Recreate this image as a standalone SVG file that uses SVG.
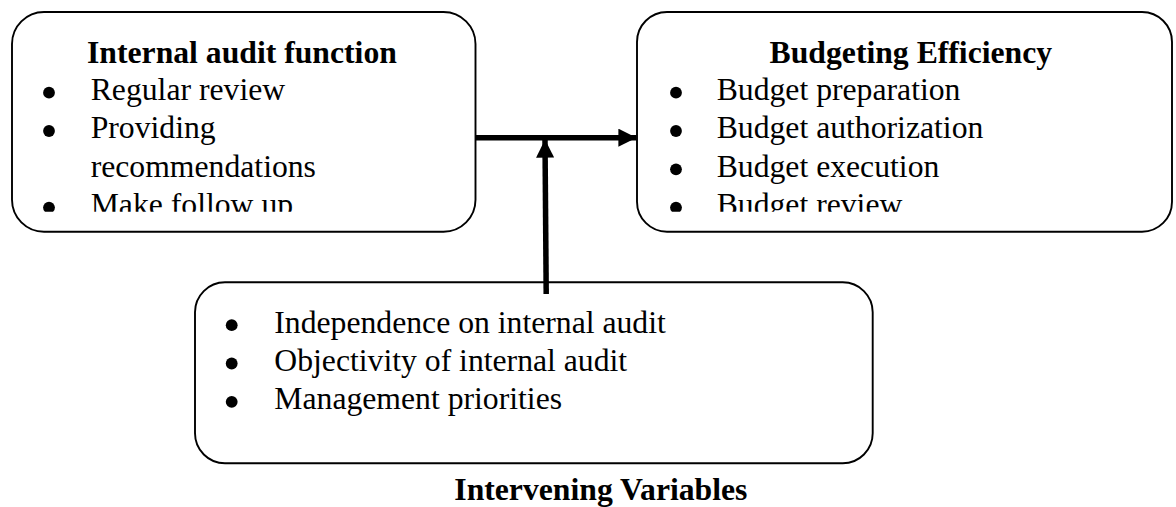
<svg xmlns="http://www.w3.org/2000/svg" width="1176" height="507" viewBox="0 0 1176 507">
  <style>
    .box { fill: #ffffff; stroke: #000000; stroke-width: 1.9; }
    .title { font-family: "Liberation Serif", "Times New Roman", serif; font-weight: bold; font-size: 31.7px; fill: #000000; }
    .item { font-family: "Liberation Serif", "Times New Roman", serif; font-size: 31.7px; fill: #000000; }
    .dot { fill: #000000; }
    .link { stroke: #000000; stroke-width: 5.5; fill: none; }
  </style>
  <defs>
    <marker id="head" viewBox="0 0 10 10" refX="10" refY="5" markerWidth="3.3" markerHeight="3.3" markerUnits="strokeWidth" orient="auto">
      <path d="M0,0 L10,5 L0,10 Z" fill="#000000"/>
    </marker>
    <!-- text areas inside the two upper boxes cut off the last line -->
    <clipPath id="clipLeft"><rect x="14" y="14" width="460" height="197.7"/></clipPath>
    <clipPath id="clipRight"><rect x="639" y="14" width="532" height="197.7"/></clipPath>
  </defs>

  <rect width="1176" height="507" fill="#ffffff"/>

  <!-- Independent variable -->
  <g id="internal-audit-function">
    <rect class="box" x="12" y="12" width="463.5" height="219.7" rx="32" ry="32"/>
    <g clip-path="url(#clipLeft)">
      <text class="title" x="87" y="62.7">Internal audit function</text>
      <circle class="dot" cx="49" cy="92.7" r="5.9"/>
      <text class="item" x="90.7" y="100">Regular review</text>
      <circle class="dot" cx="49" cy="131" r="5.9"/>
      <text class="item" x="90.7" y="138.3">Providing</text>
      <text class="item" x="90.7" y="176.6">recommendations</text>
      <circle class="dot" cx="49" cy="207.6" r="5.9"/>
      <text class="item" x="90.7" y="214.9">Make follow up</text>
    </g>
  </g>

  <!-- Dependent variable -->
  <g id="budgeting-efficiency">
    <rect class="box" x="637" y="12" width="535" height="219.7" rx="30" ry="30"/>
    <g clip-path="url(#clipRight)">
      <text class="title" x="769.6" y="62.7">Budgeting Efficiency</text>
      <circle class="dot" cx="676" cy="92.7" r="5.9"/>
      <text class="item" x="716.7" y="100">Budget preparation</text>
      <circle class="dot" cx="676" cy="131" r="5.9"/>
      <text class="item" x="716.7" y="138.3">Budget authorization</text>
      <circle class="dot" cx="676" cy="169.3" r="5.9"/>
      <text class="item" x="716.7" y="176.6">Budget execution</text>
      <circle class="dot" cx="676" cy="207.6" r="5.9"/>
      <text class="item" x="716.7" y="214.9">Budget review</text>
    </g>
  </g>

  <!-- Intervening variables -->
  <g id="intervening-variables">
    <rect class="box" x="195" y="282.3" width="677.7" height="181" rx="30" ry="30"/>
    <circle class="dot" cx="231.7" cy="325.2" r="5.9"/>
    <text class="item" x="274.3" y="332.5">Independence on internal audit</text>
    <circle class="dot" cx="231.7" cy="363.5" r="5.9"/>
    <text class="item" x="274.3" y="370.8">Objectivity of internal audit</text>
    <circle class="dot" cx="231.7" cy="401.8" r="5.9"/>
    <text class="item" x="274.3" y="409.1">Management priorities</text>
    <text class="title" x="454.3" y="499.8">Intervening Variables</text>
  </g>

  <!-- Connectors -->
  <g id="connectors">
    <line class="link" x1="475.5" y1="137.7" x2="636.5" y2="137.7" marker-end="url(#head)"/>
    <line class="link" x1="546.2" y1="294" x2="545" y2="139.5" marker-end="url(#head)"/>
  </g>
</svg>
